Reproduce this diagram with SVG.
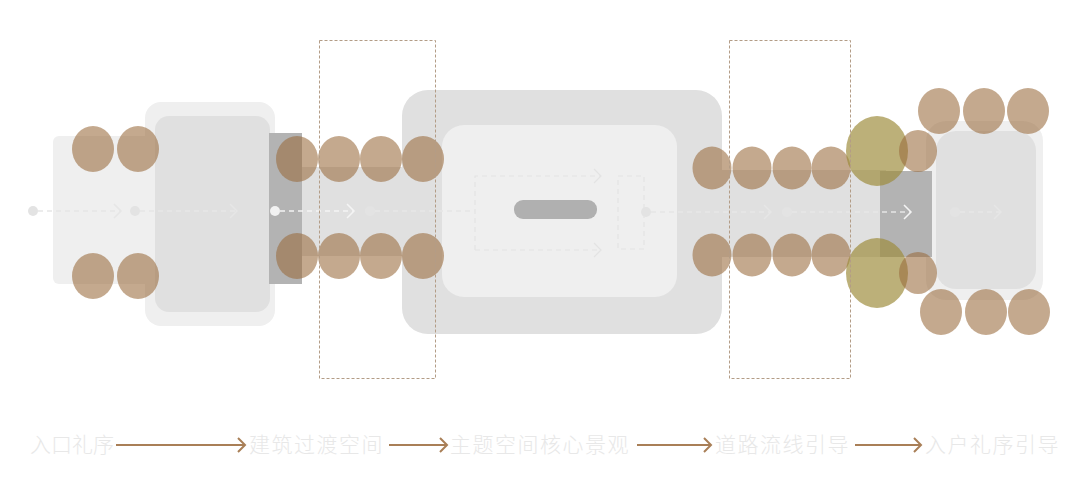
<svg xmlns="http://www.w3.org/2000/svg" width="1080" height="496" viewBox="0 0 1080 496">
<defs>
<style>
.l1{fill:#efefef}
.l2{fill:#e0e0e0}
.dk{fill:#b3b3b3}
.c{fill:#9a6a3c;fill-opacity:0.58}
.o{fill:#9c8b3a;fill-opacity:0.68}
.dbox{fill:none;stroke:#b39c86;stroke-width:1;stroke-dasharray:3 2}
.fl{fill:none;stroke:#e6e6e6;stroke-width:1.5;stroke-dasharray:5 4}
.flw{fill:none;stroke:#f4f4f4;stroke-width:1.5;stroke-dasharray:5 4}
.ah{fill:none;stroke:#e6e6e6;stroke-width:1.5}
.ahw{fill:none;stroke:#f4f4f4;stroke-width:1.5}
.dot{fill:#e3e3e3}
.lbl{font-family:"Noto Sans CJK SC","Noto Sans",sans-serif;font-size:21px;letter-spacing:1.5px;font-weight:300;fill:#e8e8e8}
.ar{fill:none;stroke:#a97f57;stroke-width:2}
</style>
</defs>

<g id="entrance">
<rect class="l1" x="53" y="136" width="100" height="148" rx="6"/>
<rect class="l1" x="145" y="102" width="130" height="224" rx="16"/>
<rect class="l2" x="155" y="116" width="115" height="196" rx="14"/>
<rect class="l2" x="300" y="167" width="110" height="89"/>
<rect class="dk" x="269" y="133" width="33" height="151"/>
</g>

<g id="core">
<rect class="l2" x="402" y="90" width="320" height="244" rx="26"/>
<rect class="l1" x="442" y="125" width="235" height="172" rx="22"/>
<rect x="514" y="200" width="83" height="19" rx="9" fill="#b0b0b0"/>
<g fill="none" stroke="#e3e3e3" stroke-width="1.2" stroke-dasharray="5 4">
<path d="M475 250 V176 H601"/>
<path d="M475 250 H601"/>
<rect x="618" y="176" width="26" height="73"/>
</g>
<path d="M594 169 L601 176 L594 183 M594 243 L601 250 L594 257" fill="none" stroke="#e3e3e3" stroke-width="1.2"/>
</g>

<g id="road">
<rect class="l2" x="716" y="170" width="170" height="87"/>
<rect class="l1" x="926" y="121" width="117" height="179" rx="20"/>
<rect class="l2" x="936" y="131" width="100" height="158" rx="20"/>
<rect class="dk" x="880" y="171" width="52" height="86"/>
</g>

<g id="connectors">
<circle class="dot" cx="33" cy="211" r="5"/>
<path class="fl" d="M38 211 H120"/>
<path class="ah" d="M114 204 L121 211 L114 218"/>
<circle class="dot" cx="135" cy="211" r="5"/>
<path class="fl" d="M140 211 H237"/>
<path class="ah" d="M230 204 L237 211 L230 218"/>
<circle cx="275" cy="211" r="5" fill="#f2f2f2"/>
<path class="flw" d="M280 211 H353"/>
<path class="ahw" d="M347 204 L354 211 L347 218"/>
<circle class="dot" cx="370" cy="211" r="5"/>
<path class="fl" d="M375 211 H475"/>
<circle class="dot" cx="646" cy="212" r="5"/>
<path class="fl" d="M651 212 H770"/>
<path class="ah" d="M764 205 L771 212 L764 219"/>
<circle class="dot" cx="787" cy="212" r="5"/>
<path class="fl" d="M792 212 H910"/>
<path class="ahw" d="M904 205 L911 212 L904 219"/>
<circle class="dot" cx="955" cy="212" r="5"/>
<path class="fl" d="M960 212 H1000"/>
<path class="ah" d="M994 205 L1001 212 L994 219"/>
</g>

<g id="trees">
<ellipse class="c" cx="93" cy="149" rx="21" ry="23"/>
<ellipse class="c" cx="138" cy="149" rx="21" ry="23"/>
<ellipse class="c" cx="93" cy="276" rx="21" ry="23"/>
<ellipse class="c" cx="138" cy="276" rx="21" ry="23"/>

<ellipse class="c" cx="297" cy="159" rx="21" ry="23"/>
<ellipse class="c" cx="339" cy="159" rx="21" ry="23"/>
<ellipse class="c" cx="381" cy="159" rx="21" ry="23"/>
<ellipse class="c" cx="423" cy="159" rx="21" ry="23"/>
<ellipse class="c" cx="297" cy="256" rx="21" ry="23"/>
<ellipse class="c" cx="339" cy="256" rx="21" ry="23"/>
<ellipse class="c" cx="381" cy="256" rx="21" ry="23"/>
<ellipse class="c" cx="423" cy="256" rx="21" ry="23"/>

<ellipse class="c" cx="712" cy="168" rx="19.5" ry="21.5"/>
<ellipse class="c" cx="752" cy="168" rx="19.5" ry="21.5"/>
<ellipse class="c" cx="792" cy="168" rx="19.5" ry="21.5"/>
<ellipse class="c" cx="831" cy="168" rx="19.5" ry="21.5"/>
<ellipse class="c" cx="712" cy="255" rx="19.5" ry="21.5"/>
<ellipse class="c" cx="752" cy="255" rx="19.5" ry="21.5"/>
<ellipse class="c" cx="792" cy="255" rx="19.5" ry="21.5"/>
<ellipse class="c" cx="831" cy="255" rx="19.5" ry="21.5"/>

<ellipse class="o" cx="877" cy="151" rx="31" ry="35"/>
<ellipse class="o" cx="877" cy="273" rx="31" ry="35"/>
<ellipse class="c" cx="918" cy="151" rx="19" ry="21"/>
<ellipse class="c" cx="918" cy="273" rx="19" ry="21"/>

<ellipse class="c" cx="939" cy="111" rx="21" ry="23"/>
<ellipse class="c" cx="984" cy="111" rx="21" ry="23"/>
<ellipse class="c" cx="1028" cy="111" rx="21" ry="23"/>
<ellipse class="c" cx="941" cy="312" rx="21" ry="23"/>
<ellipse class="c" cx="986" cy="312" rx="21" ry="23"/>
<ellipse class="c" cx="1029" cy="312" rx="21" ry="23"/>
</g>

<g id="zones">
<rect class="dbox" x="319.5" y="40.5" width="116" height="338"/>
<rect class="dbox" x="729.5" y="40.5" width="121" height="338"/>
</g>

<g id="legend">
<text class="lbl" x="30" y="452" style="letter-spacing:0">入口礼序</text>
<path class="ar" d="M116 445 H245 M238 438 L245 445 L238 452"/>
<text class="lbl" x="249" y="452">建筑过渡空间</text>
<path class="ar" d="M389 445 H447 M440 438 L447 445 L440 452"/>
<text class="lbl" x="450" y="452">主题空间核心景观</text>
<path class="ar" d="M637 445 H711 M704 438 L711 445 L704 452"/>
<text class="lbl" x="715" y="452">道路流线引导</text>
<path class="ar" d="M855 445 H921 M914 438 L921 445 L914 452"/>
<text class="lbl" x="925" y="452">入户礼序引导</text>
</g>
</svg>
